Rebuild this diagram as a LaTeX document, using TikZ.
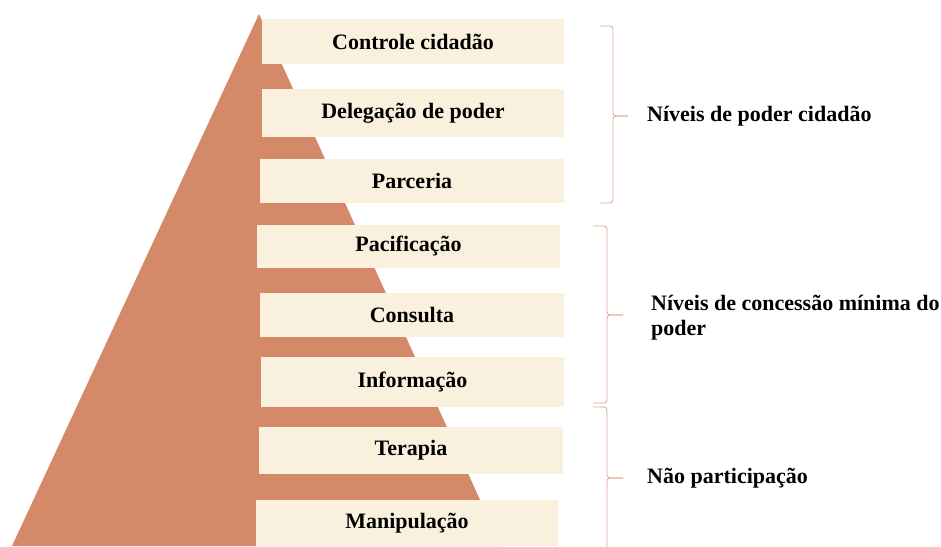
\documentclass[tikz,border=0pt]{standalone}
\usepackage{fontspec}
\setmainfont{Liberation Serif}
\usepackage{tikz}

\definecolor{salmao}{RGB}{212,137,104}
\definecolor{creme}{RGB}{249,241,222}
\definecolor{chave}{RGB}{222,165,142}

\begin{document}
\begin{tikzpicture}[x=1pt,y=1pt]
\tikzstyle{every node}+=[inner sep=0pt, font=\fontsize{22}{25}\selectfont\bfseries]
\tikzstyle{degrau}=[fill=creme]
\tikzstyle{chaveta}=[chave, line width=0.8pt, rounded corners=3pt]
\useasboundingbox (0,0) rectangle (941,-546);
\fill [salmao] (259,-14) -- (501,-546) -- (12,-546) -- cycle;
\node [degrau, minimum width=302pt, minimum height=45pt] (controle) at (413,-41.5) {Controle cidadão};
\node [degrau, minimum width=302pt, minimum height=48pt] (delegacao) at (413,-113) {Delegação de poder};
\node [degrau, minimum width=304pt, minimum height=44pt] (parceria) at (412,-181) {Parceria};
\node [degrau, minimum width=303pt, minimum height=43pt] (pacificacao) at (408.5,-246.5) {Pacificação};
\node [degrau, minimum width=304pt, minimum height=44pt] (consulta) at (412,-315) {Consulta};
\node [degrau, minimum width=303pt, minimum height=50pt] (informacao) at (412.5,-382) {Informação};
\node [degrau, minimum width=304pt, minimum height=47pt] (terapia) at (411,-450.5) {Terapia};
\node [degrau, minimum width=302pt, minimum height=46pt] (manipulacao) at (407,-523) {Manipulação};
\draw [chaveta] (600,-26) -- (613,-26) -- (613,-116) -- (628,-116);
\draw [chaveta] (600,-203) -- (613,-203) -- (613,-116) -- (628,-116);
\draw (647,-116) node [anchor=west] (cidadao) {Níveis de poder cidadão};
\draw [chaveta] (593,-226) -- (607,-226) -- (607,-315) -- (623,-315);
\draw [chaveta] (593,-403) -- (607,-403) -- (607,-315) -- (623,-315);
\draw (651,-318) node [anchor=west, align=left] (concessao) {Níveis de concessão mínima do\\poder};
\draw [chaveta] (593,-407) -- (607,-407) -- (607,-478) -- (623,-478);
\draw [chaveta] (593,-549) -- (607,-549) -- (607,-478) -- (623,-478);
\draw (647,-478) node [anchor=west] (naopart) {Não participação};
\end{tikzpicture}
\end{document}
